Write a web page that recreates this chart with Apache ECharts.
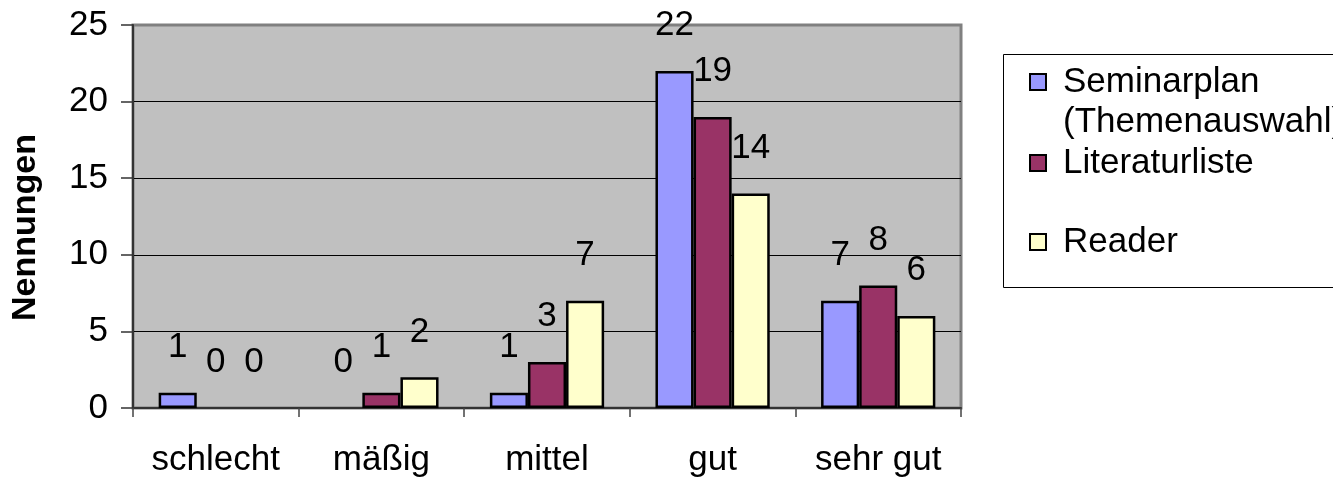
<!DOCTYPE html>
<html>
<head>
<meta charset="utf-8">
<script src="https://cdn.jsdelivr.net/npm/echarts@6/dist/echarts.min.js"></script>
<style>
  html, body { margin: 0; padding: 0; background: #fff; }
  #chart { width: 1333px; height: 480px; }
</style>
</head>
<body>
<div id="chart"></div>
<script>
  // Bewertungen
  const categories = ['schlecht', 'mäßig', 'mittel', 'gut', 'sehr gut']
  const seminarplan = [1, 0, 1, 22, 7]
  const literaturliste = [0, 1, 3, 19, 8]
  const reader = [0, 2, 7, 14, 6]
  const yTicks = [0, 5, 10, 15, 20, 25]
  const seriesNames = ['Seminarplan (Themenauswahl)', 'Literaturliste', 'Reader']

  const font = "'Liberation Sans', Arial, sans-serif"
  const fs = 35

  const barLabel = {
    show: true,
    position: 'top',
    distance: 28,
    color: '#000',
    fontSize: fs,
    fontFamily: font
  }

  function makeBar(name, data, color) {
    return {
      name: name,
      type: 'bar',
      // zero bars are not drawn in the original (no outline at the baseline)
      data: data.map(function (v) {
        return v === 0 ? { value: v, itemStyle: { borderWidth: 0 } } : v
      }),
      barGap: '0%',
      barCategoryGap: '31%',
      itemStyle: { color: color, borderColor: '#000', borderWidth: 2.5 },
      label: barLabel
    }
  }

  function legendAt(name, top, extra) {
    return Object.assign({
      data: [name],
      orient: 'vertical',
      left: 1029,
      top: top,
      padding: 0,
      icon: 'rect',
      itemWidth: 16,
      itemHeight: 16,
      selectedMode: false,
      textStyle: {
        color: '#000',
        fontSize: fs,
        fontFamily: font,
        lineHeight: 40,
        padding: [0, 0, 0, 12]
      }
    }, extra || {})
  }

  const option = {
    animation: false,
    backgroundColor: '#fff',
    textStyle: { fontFamily: font },
    grid: {
      left: 133,
      right: 372,
      top: 25,
      bottom: 72,
      show: true,
      backgroundColor: '#C0C0C0',
      borderColor: '#808080',
      borderWidth: 3
    },
    graphic: [{
      type: 'rect',
      left: 1003,
      top: 54,
      shape: { width: 345, height: 233 },
      style: { fill: '#fff', stroke: '#000', lineWidth: 1 },
      z: -1
    }],
    legend: [
      legendAt(seriesNames[0], 22, {
        formatter: function (n) { return '\n' + n.replace(' (', '\n(') }
      }),
      legendAt(seriesNames[1], 143),
      legendAt(seriesNames[2], 222)
    ],
    xAxis: {
      type: 'category',
      data: categories,
      axisLine: { lineStyle: { color: '#333', width: 2 } },
      axisTick: { show: true, interval: 0, length: 9, lineStyle: { color: '#444', width: 1.5 } },
      axisLabel: { interval: 0, hideOverlap: false, color: '#000', fontSize: fs, fontFamily: font, margin: 35 }
    },
    yAxis: {
      type: 'value',
      min: yTicks[0],
      max: yTicks[yTicks.length - 1],
      interval: 5,
      name: 'Nennungen',
      nameLocation: 'middle',
      nameGap: 90,
      nameTextStyle: {
        color: '#000', fontSize: 34, fontWeight: 'bold', fontFamily: font,
        padding: [0, 22, 0, 0]
      },
      axisLine: { show: true, lineStyle: { color: '#333', width: 2 } },
      axisTick: { show: true, length: 12, lineStyle: { color: '#333', width: 1.5 } },
      axisLabel: { color: '#000', fontSize: fs, fontFamily: font, margin: 25 },
      splitLine: { show: true, showMinLine: false, showMaxLine: false, lineStyle: { color: '#000', width: 1 } }
    },
    series: [
      makeBar(seriesNames[0], seminarplan, '#9999FF'),
      makeBar(seriesNames[1], literaturliste, '#993366'),
      makeBar(seriesNames[2], reader, '#FFFFCC')
    ]
  }

  const chart = echarts.init(document.getElementById('chart'))
  chart.setOption(option)
  window.addEventListener('resize', function () { chart.resize() })
</script>
</body>
</html>
